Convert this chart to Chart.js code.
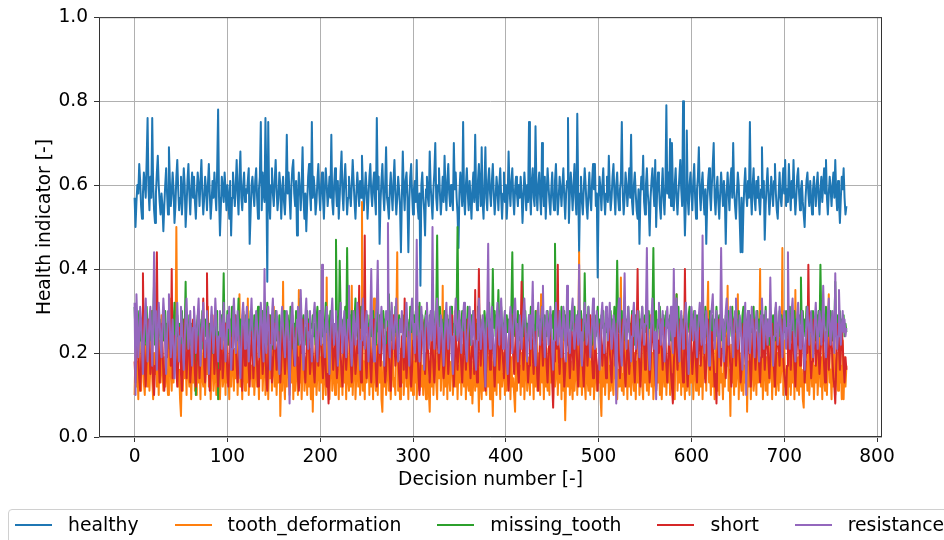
<!DOCTYPE html>
<html>
<head>
<meta charset="utf-8">
<title>Health indicator per decision</title>
<script src="https://cdn.jsdelivr.net/npm/chart.js@4/dist/chart.umd.min.js"></script>
<style>
  html, body { margin: 0; padding: 0; background: #fff; overflow: hidden; }
  #wrap { position: relative; width: 944px; height: 540px; }
  #legend {
    position: absolute; left: 8px; top: 509px; width: 1000px; height: 60px;
    box-sizing: border-box; border: 1px solid #d0d0d0; border-radius: 4px;
    padding: 4px 0 0 6px; display: flex; align-items: flex-start;
    font-family: "DejaVu Sans", sans-serif; font-size: 18.8px; color: #000;
  }
  .item { display: flex; align-items: center; margin-right: 36px; line-height: 22px; white-space: nowrap; }
  .swatch { display: inline-block; width: 37px; height: 2px; margin-right: 16px; }
</style>
</head>
<body>
<div id="wrap">
  <canvas id="hi-chart" width="944" height="540"></canvas>
  <div id="legend"></div>
</div>
<script>
// Health indicator per decision (values in hundredths)
const healthy = [
  57,50,56,60,58,65,61,55,52,58,63,60,57,66,76,59,54,62,57,76,60,54,51,58,63,67,60,56,53,58,55,49,
  55,60,64,58,53,69,61,55,58,63,59,51,55,62,66,59,54,57,62,53,58,64,60,50,55,61,65,58,53,59,63,57,
  62,56,52,58,63,60,55,61,66,58,53,57,62,59,54,60,65,58,52,56,61,57,63,58,54,64,78,57,48,55,62,59,
  56,63,59,54,60,57,52,61,48,57,63,59,55,60,66,58,53,62,68,57,54,60,63,56,59,58,61,64,46,53,60,62,
  58,55,61,64,57,52,59,62,75,54,63,58,56,76,61,37,75,57,52,60,64,58,55,61,66,59,54,57,63,60,52,58,
  62,56,53,59,72,58,63,57,52,60,64,66,58,55,61,48,57,63,59,54,60,69,57,52,58,49,56,62,65,58,54,75,
  57,62,59,53,56,61,65,58,54,60,63,57,52,59,64,60,55,58,62,57,72,56,53,60,64,59,55,61,52,57,63,68,
  58,54,61,65,59,53,57,62,58,55,60,66,61,56,52,58,63,59,55,61,57,67,60,54,58,63,59,52,57,62,65,58,
  55,60,63,57,53,76,59,62,46,56,61,65,58,54,60,69,57,55,52,59,63,58,54,61,66,58,53,57,62,59,55,44,
  57,68,59,54,61,63,57,44,56,62,65,58,53,59,61,56,66,55,52,58,36,60,63,57,54,48,59,62,57,55,68,60,
  56,52,59,63,70,57,54,60,64,58,53,57,62,56,67,59,54,61,65,58,55,60,57,54,70,59,63,57,53,45,58,63,
  59,55,75,57,53,60,64,58,54,61,57,52,59,63,56,72,58,54,61,65,59,55,69,56,52,60,69,57,54,61,64,58,
  55,61,65,58,53,57,62,59,54,60,64,57,52,58,63,56,60,52,57,68,59,55,61,64,57,53,59,62,58,55,60,57,
  62,58,51,57,63,59,54,60,56,75,58,53,61,64,57,55,74,59,54,60,63,57,53,70,59,55,62,52,58,64,60,56,
  53,59,63,57,54,61,65,58,53,57,62,59,55,60,64,57,52,58,61,76,51,58,63,59,54,60,65,57,53,77,59,44,
  58,62,56,53,59,64,60,55,52,58,63,57,54,61,65,59,65,55,58,38,57,62,59,54,60,64,57,53,58,62,56,67,
  59,54,57,62,65,58,53,60,63,57,54,59,61,75,58,53,57,63,60,55,59,64,57,72,56,53,60,63,58,54,52,59,
  46,57,62,59,67,56,53,60,64,58,55,48,57,61,64,59,55,66,50,58,63,60,55,52,59,64,57,53,60,79,58,63,
  57,71,55,70,59,54,60,64,57,53,58,62,66,59,55,80,58,48,56,73,57,53,60,63,58,54,61,65,57,52,59,62,
  69,58,54,60,63,57,53,59,46,56,61,64,58,54,60,65,70,57,53,59,62,56,52,58,63,59,55,61,57,46,58,63,
  58,54,61,64,57,70,59,55,52,58,63,60,52,44,57,44,54,60,64,58,55,61,57,75,58,53,60,64,57,54,61,57,
  62,56,53,59,69,57,61,47,55,60,64,58,53,57,62,59,55,61,65,58,54,52,58,63,57,55,60,64,58,66,55,59,
  56,65,59,54,61,57,66,58,53,57,62,64,58,54,59,61,56,53,50,57,61,63,58,55,61,57,53,59,62,58,55,60,
  63,57,53,59,62,56,60,64,58,66,57,53,58,62,59,55,60,63,57,66,58,54,61,56,51,57,62,59,64,57,53,55
];
const toothDeformation = [
  10,21,12,18,9,24,14,11,19,28,13,10,22,16,12,25,11,17,30,14,9,20,15,26,12,18,10,23,13,29,16,11,
  19,12,26,14,10,21,33,15,11,24,13,30,18,50,22,12,16,9,5,18,11,25,14,20,10,27,15,12,22,9,17,13,
  24,11,16,10,28,13,19,9,22,14,12,26,10,18,15,31,12,20,9,17,24,11,14,28,10,19,13,22,9,16,25,12,
  14,20,10,27,13,17,9,23,12,30,16,11,21,14,25,10,18,34,12,19,9,24,15,11,28,13,33,10,20,14,17,12,
  22,10,15,26,12,18,9,21,14,29,11,17,24,10,13,27,9,19,14,23,11,16,31,12,20,10,18,13,25,5,15,11,
  37,14,9,22,12,27,16,10,20,13,25,9,18,11,23,15,10,35,13,21,9,17,26,11,14,19,10,28,12,16,9,22,
  6,18,12,24,10,15,28,11,19,13,22,9,26,14,10,38,12,20,9,17,25,11,14,21,10,30,13,16,9,23,12,18,
  10,25,13,19,9,22,14,11,27,12,36,10,17,23,9,15,20,12,28,10,14,56,11,18,9,24,13,16,21,10,29,12,
  17,9,33,14,11,22,10,19,13,26,9,6,18,12,24,10,15,28,11,20,9,16,23,12,14,10,27,44,11,18,9,21,
  13,25,10,16,29,12,19,9,22,14,11,27,10,18,13,24,9,15,31,11,20,12,17,10,26,13,9,21,14,11,6,18,
  12,23,10,17,28,13,9,20,14,25,11,16,36,10,19,12,22,9,27,14,11,18,24,10,15,30,12,20,9,17,13,26,
  10,15,22,12,19,9,27,13,11,24,10,18,8,14,21,11,28,12,16,6,20,13,9,25,11,17,14,10,23,12,19,9,
  26,14,5,18,11,22,10,29,13,17,9,24,12,15,20,10,27,11,16,13,23,9,19,12,14,10,6,21,11,25,13,17,
  10,20,12,28,9,16,23,11,14,19,10,26,13,17,9,22,12,30,11,15,20,10,34,13,18,9,24,12,16,11,21,10,
  27,13,19,9,22,12,15,25,10,17,13,21,9,28,11,16,4,14,20,12,24,10,18,13,9,23,11,15,26,10,19,44,
  12,20,10,16,27,13,9,22,14,11,25,10,18,12,29,9,15,21,11,17,13,24,10,5,19,12,26,10,16,13,22,9,
  17,11,24,13,10,20,14,28,9,16,12,22,38,11,15,10,25,13,19,9,23,12,17,10,27,14,11,20,9,18,13,24,
  10,15,21,12,9,26,13,18,11,23,10,16,29,12,20,9,14,24,11,17,13,22,10,27,9,15,19,12,25,10,18,13,
  22,10,16,28,12,19,9,24,34,11,17,13,21,10,26,12,15,9,23,11,18,14,10,27,13,20,9,16,25,11,14,21,
  10,17,12,25,9,19,14,22,11,28,37,13,16,10,23,12,18,9,26,14,11,20,10,29,13,15,9,21,12,24,17,36,
  11,16,5,22,13,19,10,26,12,15,34,9,20,14,11,24,10,17,13,28,6,18,12,23,9,16,27,11,14,20,10,25,
  13,18,40,12,21,9,16,24,11,19,10,27,13,15,22,9,18,12,26,10,14,20,11,29,13,17,45,10,23,12,16,9,
  20,12,25,10,17,13,22,9,35,14,11,19,10,26,12,16,9,7,21,13,18,11,24,10,15,28,12,20,9,17,13,23,
  10,16,27,12,19,9,22,14,11,25,10,18,34,13,16,9,21,12,26,10,15,20,11,28,13,17,9,23,9,19,12,17
];
const missingTooth = [
  31,24,28,21,26,30,23,27,19,25,29,22,26,31,24,20,28,25,23,30,27,37,22,26,29,21,25,28,24,19,27,23,
  26,30,22,27,24,29,21,25,28,23,26,32,20,25,29,24,27,22,26,30,23,28,25,37,21,26,24,29,22,27,25,23,
  27,24,10,26,29,22,28,25,23,30,21,26,28,24,31,22,25,27,23,29,20,26,24,28,22,30,9,25,27,23,29,26,
  39,23,27,25,30,22,26,28,24,31,21,27,25,29,23,26,33,24,28,22,27,30,25,23,29,26,21,28,24,30,25,27,
  23,29,26,22,28,31,24,27,25,21,30,26,23,28,25,32,22,27,29,24,26,21,28,25,30,23,27,24,29,22,26,28,
  25,30,22,27,24,29,26,23,31,25,28,21,27,24,30,26,22,28,25,33,23,27,29,24,26,22,30,25,28,23,27,26,
  29,24,27,22,28,31,25,23,30,26,24,28,22,27,32,25,29,23,26,30,24,28,25,22,27,47,29,26,24,42,30,27,
  24,28,26,31,23,45,27,25,29,22,30,26,24,28,33,25,27,23,29,26,31,24,28,22,27,30,25,29,23,26,28,24,
  27,30,24,28,22,26,31,25,29,23,27,24,30,26,28,22,25,29,34,27,23,30,26,28,24,31,25,27,22,29,26,28,
  25,29,23,27,30,24,28,26,22,31,25,27,29,23,26,30,24,28,25,32,27,23,29,26,24,28,30,25,27,22,29,26,
  28,24,30,26,23,29,48,27,25,31,24,28,26,22,30,27,25,29,23,28,26,31,24,27,25,29,23,30,50,26,28,24,
  27,30,25,29,23,28,26,31,24,27,22,29,26,30,25,28,23,27,31,24,29,26,22,28,25,30,27,24,29,26,32,25,
  28,23,40,26,30,24,29,27,35,25,28,31,23,27,26,30,24,29,25,28,22,27,31,44,26,29,24,28,25,30,23,27,
  26,29,41,24,28,30,25,27,23,29,26,31,24,28,25,22,30,27,26,29,24,28,25,31,23,27,29,26,24,30,25,28,
  24,29,26,30,23,46,27,25,29,24,28,26,31,23,27,30,25,29,22,28,26,30,24,27,29,25,31,23,28,26,30,24,
  27,30,25,28,23,39,26,29,24,31,27,25,28,22,30,26,29,24,27,31,25,28,23,29,26,30,24,27,25,29,22,28,
  26,30,24,28,25,31,23,27,42,29,25,28,26,30,24,27,29,23,28,26,31,25,27,24,30,26,28,22,29,25,27,30,
  24,28,26,31,23,27,29,25,28,22,30,26,27,24,29,45,25,28,30,23,27,26,31,24,28,25,29,22,27,30,26,28,
  25,29,23,27,30,24,28,26,34,25,31,23,27,29,24,28,26,30,22,27,25,29,31,24,28,26,23,30,27,25,29,24,
  28,26,30,23,27,29,25,31,24,28,26,22,30,27,25,29,23,28,26,31,24,27,29,25,30,23,28,26,24,29,27,25,
  30,24,28,26,31,23,27,29,25,28,22,30,26,27,24,29,31,25,28,23,27,30,26,24,29,25,28,31,23,27,26,30,
  24,28,25,30,23,27,29,26,31,24,28,25,22,30,27,26,29,23,28,31,25,27,24,30,26,29,23,28,25,27,30,24,
  28,26,31,23,27,29,25,30,24,28,26,22,29,27,38,25,30,24,28,26,31,23,27,29,25,28,24,30,26,27,23,29,
  26,30,24,41,27,25,29,23,28,31,26,24,29,25,30,27,23,28,26,37,24,29,27,25,30,23,28,26,29,24,27,25
];
const shortCircuit = [
  18,13,21,26,19,14,11,17,24,39,22,16,12,19,25,28,21,15,18,23,13,10,17,22,44,24,18,13,20,27,22,15,
  11,16,22,19,25,29,23,17,40,14,19,24,21,16,12,18,26,22,15,11,17,23,28,20,14,19,25,21,13,17,24,28,
  21,15,12,18,24,20,14,19,26,23,33,17,13,20,39,22,16,11,18,25,29,21,15,19,24,17,12,16,23,27,20,14,
  18,24,27,21,15,12,19,25,22,16,20,26,29,23,17,13,18,24,21,15,11,30,22,17,20,26,23,16,12,19,25,21,
  14,19,26,22,17,12,16,23,28,21,15,19,25,20,14,11,18,29,24,19,13,17,22,27,21,16,20,25,18,13,17,23,
  27,20,15,19,24,21,16,12,18,25,29,22,17,21,26,19,14,11,16,22,20,28,23,17,13,19,24,27,21,15,18,24,
  20,16,13,19,25,22,17,21,27,24,18,14,19,23,16,12,15,8,18,24,28,21,16,20,25,19,14,17,22,26,20,15,
  12,18,24,21,16,20,26,29,22,17,13,19,25,21,15,18,23,20,36,17,13,19,25,22,48,18,14,20,26,23,17,13,
  19,24,28,21,16,12,18,25,22,17,21,27,24,18,13,16,22,26,20,15,11,18,24,29,23,17,20,25,21,15,12,19,
  24,21,16,33,19,14,18,25,22,17,12,16,23,27,21,18,24,20,14,10,17,22,28,24,19,15,20,26,23,17,13,18,
  25,22,17,13,19,24,28,21,16,20,26,23,18,14,17,23,27,20,15,19,25,29,22,17,12,18,24,21,16,20,26,22,
  17,13,19,25,21,16,22,28,24,18,14,19,23,20,15,35,18,13,21,40,22,17,24,27,20,15,11,17,23,26,21,16,
  20,25,22,17,12,18,24,28,21,16,20,26,23,18,14,19,25,22,16,11,17,23,29,24,19,15,21,26,20,16,13,19,
  24,37,21,16,20,26,23,18,13,17,22,28,24,19,15,21,25,20,14,11,18,24,27,22,17,21,26,23,17,13,19,25,
  22,17,13,7,18,24,27,21,41,19,15,20,26,23,18,12,16,22,28,24,19,14,18,25,21,16,20,27,23,17,12,18,
  24,28,21,16,12,19,25,22,17,21,26,29,23,18,14,17,23,20,15,11,18,24,27,22,17,21,25,19,14,18,24,26,
  21,16,13,19,25,22,17,21,27,24,18,14,19,25,28,21,16,12,18,23,20,15,19,26,29,22,17,13,19,24,40,21,
  17,12,18,24,28,22,16,20,26,23,18,13,17,22,27,24,19,15,11,17,23,20,25,28,21,16,20,26,22,17,13,19,
  24,20,15,12,8,17,23,27,21,16,20,25,28,22,17,13,18,40,21,16,12,18,24,27,20,15,19,25,22,17,13,20,
  26,22,17,21,27,24,18,13,17,23,28,21,16,20,25,22,17,12,15,8,19,25,28,22,17,21,26,23,18,14,19,24,
  27,21,16,12,18,24,28,22,17,21,26,23,18,13,16,22,27,24,19,15,20,26,22,17,12,18,25,28,21,16,20,25,
  22,17,13,19,25,28,21,16,20,26,23,18,14,19,24,27,21,16,12,18,23,26,21,17,22,28,24,19,15,13,10,17,
  23,27,21,16,20,25,22,17,12,18,24,28,22,17,21,26,23,18,13,17,23,20,41,24,19,14,18,25,28,22,17,21,
  26,20,15,19,24,28,22,17,13,18,25,21,16,20,27,23,18,14,12,8,17,23,27,21,16,20,26,22,17,13,19,16
];
const resistance = [
  32,10,34,27,19,24,31,28,21,15,23,29,33,26,18,22,28,31,24,17,26,44,30,21,16,25,32,28,22,19,27,33,
  29,21,15,24,30,34,26,19,23,28,22,14,20,27,32,25,18,24,31,27,20,16,23,29,33,26,21,25,30,22,17,26,
  31,27,20,24,29,33,25,17,22,28,32,26,19,23,30,24,15,21,27,31,25,20,26,33,28,22,18,24,30,27,21,25,
  32,24,18,22,29,26,31,23,16,21,28,33,27,20,24,30,25,19,14,22,29,32,26,21,27,31,24,18,23,28,33,26,
  21,17,25,30,27,22,19,26,32,28,23,18,40,24,20,27,31,25,16,22,29,33,26,21,24,30,27,19,15,23,28,31,
  26,22,19,25,30,27,21,8,24,29,32,26,20,17,23,28,31,25,22,35,27,20,16,24,29,33,26,21,25,30,23,18,
  24,29,32,27,21,18,25,30,26,22,41,28,23,19,26,31,27,21,15,24,29,33,26,22,27,30,24,17,21,28,32,25,
  20,26,30,24,19,23,28,36,25,21,17,24,30,27,22,26,32,28,20,16,23,29,33,25,21,27,30,24,18,22,28,40,
  26,21,18,24,29,32,42,25,20,27,31,26,22,17,24,30,28,51,23,19,26,32,27,21,25,29,33,24,18,22,28,25,
  30,24,19,23,28,32,26,21,17,25,29,33,27,22,20,26,47,28,23,18,25,31,27,22,16,24,29,32,26,21,27,30,
  23,50,27,21,25,30,33,26,20,24,29,27,22,17,23,28,32,25,21,26,31,24,19,15,22,28,33,27,23,26,30,24,
  20,25,29,32,26,21,18,24,28,31,27,22,25,30,24,19,16,23,28,33,26,21,25,29,27,22,12,26,30,46,24,21,
  27,31,25,20,17,23,28,32,26,22,29,33,27,21,24,30,26,19,15,22,28,31,25,20,26,30,33,27,22,18,24,29,
  25,21,26,30,33,27,22,18,24,29,26,21,28,37,25,20,17,23,29,32,26,22,27,31,36,24,19,25,30,27,22,26,
  31,27,21,16,23,28,32,26,22,25,30,24,19,26,31,27,22,18,36,28,23,20,26,30,33,25,21,24,29,27,22,41,
  25,20,17,24,29,32,27,22,26,31,24,19,23,28,33,26,21,25,30,27,22,16,23,29,32,26,20,25,31,28,23,27,
  32,26,21,24,29,27,22,8,25,30,33,26,20,17,24,28,39,25,21,27,31,26,22,18,24,29,32,27,21,25,30,23,
  19,24,28,31,26,22,27,30,45,25,20,16,23,29,33,26,21,25,9,24,28,32,27,22,26,30,23,18,22,28,31,26,
  22,27,31,25,20,40,24,29,33,27,22,18,25,30,26,21,24,29,32,27,22,15,21,26,31,28,23,27,30,24,19,25,
  29,32,27,22,48,25,20,26,30,27,22,17,24,29,31,34,26,21,25,30,27,23,19,26,45,28,22,18,25,30,33,27,
  22,26,31,28,23,19,25,30,33,26,21,24,29,27,22,16,23,28,32,10,26,30,24,20,25,31,28,23,19,26,30,27,
  22,18,24,29,33,27,21,25,30,26,22,28,24,38,26,21,17,24,29,32,27,22,26,31,28,23,19,25,30,27,21,26,
  44,27,21,25,30,33,26,22,18,24,29,32,27,21,25,30,26,20,16,23,28,31,26,22,27,30,24,19,23,28,32,26,
  21,25,30,27,22,26,36,28,23,19,24,29,33,26,22,27,30,25,20,39,26,21,24,35,27,22,26,30,25,28,24,26
];

const seriesNames = ['healthy', 'tooth_deformation', 'missing_tooth', 'short', 'resistance'];
const seriesColors = ['#1f77b4', '#ff7f0e', '#2ca02c', '#d62728', '#9467bd'];
const seriesValues = [healthy, toothDeformation, missingTooth, shortCircuit, resistance];
const xTickValues = [0, 100, 200, 300, 400, 500, 600, 700, 800];
const yTickValues = [0.0, 0.2, 0.4, 0.6, 0.8, 1.0];

const FONT = { family: '"DejaVu Sans", sans-serif', size: 18.6 };

// matplotlib draws the last series on top, chart.js the first, so flip with order
const datasets = seriesValues.map((vals, i) => ({
  label: seriesNames[i],
  data: vals.map((v, k) => ({ x: k, y: v / 100 })),
  borderColor: seriesColors[i],
  borderWidth: 2,
  borderJoinStyle: 'round',
  pointRadius: 0,
  fill: false,
  tension: 0,
  order: seriesValues.length - 1 - i,
}));

const framePlugin = {
  id: 'frame',
  afterDraw(chart) {
    const { ctx, chartArea: a } = chart;
    ctx.save();
    ctx.strokeStyle = '#333';
    ctx.lineWidth = 1;
    ctx.strokeRect(a.left + 0.5, a.top + 0.5, a.right - a.left - 1, a.bottom - a.top - 1);
    ctx.restore();
  }
};

new Chart(document.getElementById('hi-chart'), {
  type: 'line',
  data: { datasets },
  options: {
    responsive: false,
    devicePixelRatio: 1,
    animation: false,
    events: [],
    layout: { padding: { left: 0, right: 62, top: 15, bottom: 45 } },
    plugins: { legend: { display: false }, tooltip: { enabled: false } },
    scales: {
      x: {
        type: 'linear',
        min: -38.35,
        max: 805.35,
        afterBuildTicks: (s) => { s.ticks = xTickValues.map((v) => ({ value: v })); },
        afterFit: (s) => { s.height = 58; },
        ticks: { font: FONT, color: '#000', padding: 4, maxRotation: 0, autoSkip: false, callback: (v) => String(v) },
        grid: { color: '#b0b0b0', lineWidth: 1, tickLength: 5, tickColor: '#333' },
        border: { display: false },
        title: { display: true, text: 'Decision number [-]', font: FONT, color: '#000', padding: { top: 0, bottom: 4 } }
      },
      y: {
        min: 0,
        max: 1,
        afterBuildTicks: (s) => { s.ticks = yTickValues.map((v) => ({ value: v })); },
        afterFit: (s) => { s.width = 99; },
        ticks: { font: FONT, color: '#000', padding: 6, callback: (v) => Number(v).toFixed(1) },
        grid: { color: '#b0b0b0', lineWidth: 1, tickLength: 5, tickColor: '#333' },
        border: { display: false },
        title: { display: true, text: 'Health indicator [-]', font: FONT, color: '#000', padding: { top: 34, bottom: 0 } }
      }
    }
  },
  plugins: [framePlugin]
});

// legend box under the plot, same look as the matplotlib one
document.getElementById('legend').innerHTML = seriesNames.map((name, i) => `
  <div class="item"><span class="swatch" style="background:${seriesColors[i]}"></span>${name}</div>
`).join('');
</script>
</body>
</html>
